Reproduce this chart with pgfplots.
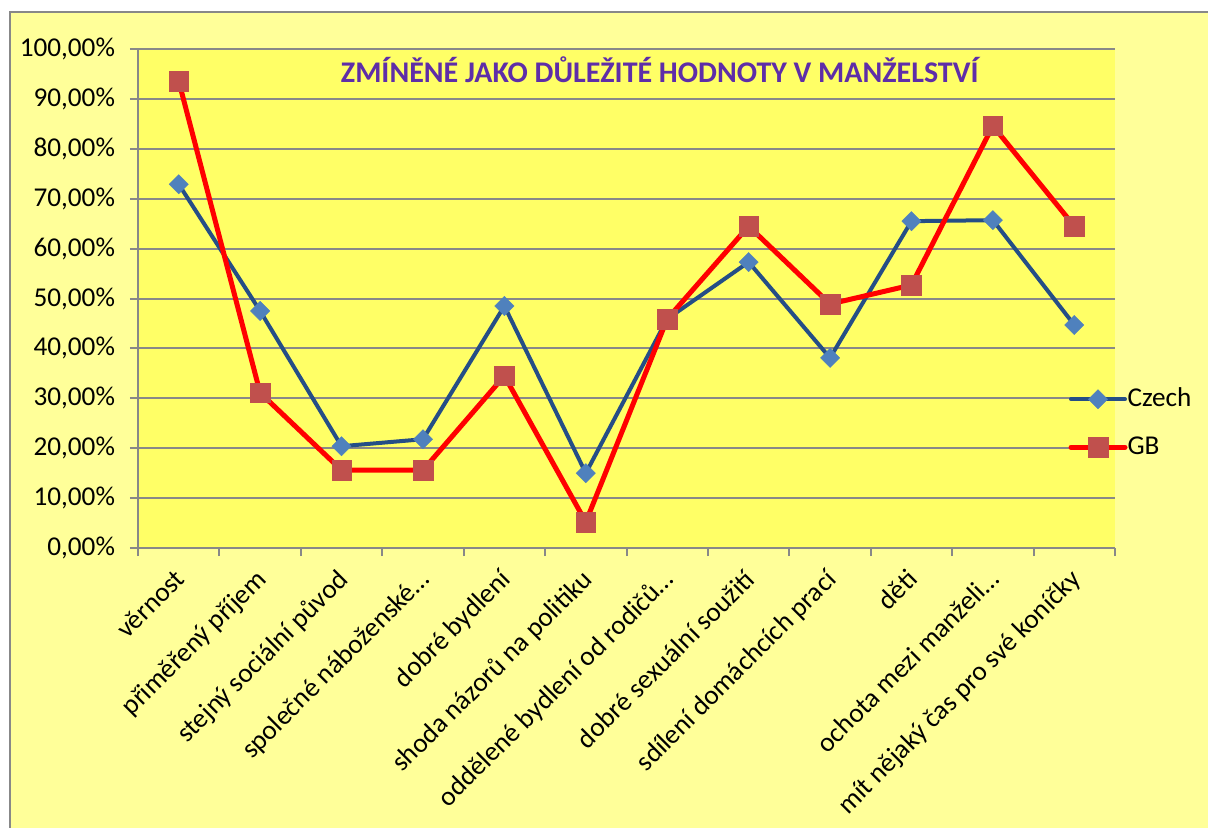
\documentclass[border=0pt]{standalone}
\usepackage{pgfplots}
\pgfplotsset{compat=1.18}
\usepackage{fontspec}
\setmainfont{Carlito}
\definecolor{outerbg}{HTML}{FFFF99}
\definecolor{plotbg}{HTML}{FFFF66}
\definecolor{gridc}{HTML}{888888}
\definecolor{czline}{HTML}{254E86}
\definecolor{czmark}{HTML}{4F81BD}
\definecolor{gbline}{HTML}{FF0000}
\definecolor{gbmark}{HTML}{C0504D}
\definecolor{titlec}{HTML}{5E2DA8}
\begin{document}
\begin{tikzpicture}
\fill[outerbg] (-64pt,268pt) rectangle (540pt,-145pt);
\draw[gridc, line width=1pt] (-64pt,-145pt) -- (-64pt,268pt) -- (540pt,268pt);
\begin{axis}[
  at={(0pt,0pt)}, anchor=south west,
  scale only axis, width=488.5pt, height=249.5pt,
  xmin=0.5, xmax=12.5, ymin=0, ymax=100,
  ytick={0,10,...,100},
  xtick={1,...,12},
  xticklabels={věrnost, přiměřený příjem, stejný sociální původ, společné náboženské…, dobré bydlení, shoda názorů na politiku, oddělené bydlení od rodičů…, dobré sexuální soužití, sdílení domáchcích prací, děti, ochota mezi manželi…, mít nějaký čas pro své koníčky},
  minor xtick={0.5,1.5,...,12.5},
  major x tick style={draw=none},
  minor tick length=4pt,
  major tick length=4pt,
  tick align=outside,
  axis x line*=bottom, axis y line*=left,
  axis line style={gridc, line width=1pt},
  tick style={gridc, line width=1pt},
  ymajorgrids,
  major grid style={gridc, line width=1pt},
  axis background/.style={fill=plotbg},
  /pgf/number format/assume math mode=true,
  yticklabel={\pgfmathprintnumber[fixed,fixed zerofill,precision=2,use comma]{\tick}\%},
  ticklabel style={font=\fontsize{13.6}{16}\selectfont, text=black},
  yticklabel style={xshift=-4pt},
  xticklabel style={rotate=45, anchor=north east, inner sep=1pt, yshift=-1pt, xshift=-5pt},
  legend style={draw=none, fill=none, at={(rel axis cs:0.952,0.25)}, anchor=west, inner sep=0pt,
    font=\fontsize{13.6}{16}\selectfont,
    nodes={text height=9pt, text depth=2pt, inner sep=0pt}, row sep=13pt},
  legend cell align=left,
  /tikz/every even column/.style={column sep=2.5pt},
  legend image code/.code={\draw[#1, mark repeat=2, mark phase=2, line cap=round] plot coordinates {(0pt,0pt) (13.5pt,0pt) (27pt,0pt)};},
  clip=false,
]
\addplot[czline, line width=2pt, mark=square*, mark size=3.4pt, mark options={rotate=45, fill=czmark, draw=czmark, line width=0.2pt}]
  coordinates {(1,72.9) (2,47.5) (3,20.4) (4,21.8) (5,48.5) (6,15.0) (7,45.9) (8,57.3) (9,38.1) (10,65.5) (11,65.7) (12,44.7)};
\addlegendentry{Czech}
\addplot[gbline, line width=2.5pt, mark=square*, mark size=4.9pt, mark options={fill=gbmark, draw=gbmark, line width=0.2pt}]
  coordinates {(1,93.6) (2,31.1) (3,15.6) (4,15.6) (5,34.5) (6,5.2) (7,45.9) (8,64.5) (9,48.9) (10,52.7) (11,84.6) (12,64.5)};
\addlegendentry{GB}
\node[font=\bfseries\fontsize{15}{18}\selectfont, text=titlec] at (rel axis cs:0.534,0.958) {ZMÍNĚNÉ JAKO DŮLEŽITÉ HODNOTY V MANŽELSTVÍ};
\end{axis}
\pgfresetboundingbox
\path[use as bounding box] (-69pt,-139.5pt) rectangle (535pt,274pt);
\end{tikzpicture}
\end{document}
